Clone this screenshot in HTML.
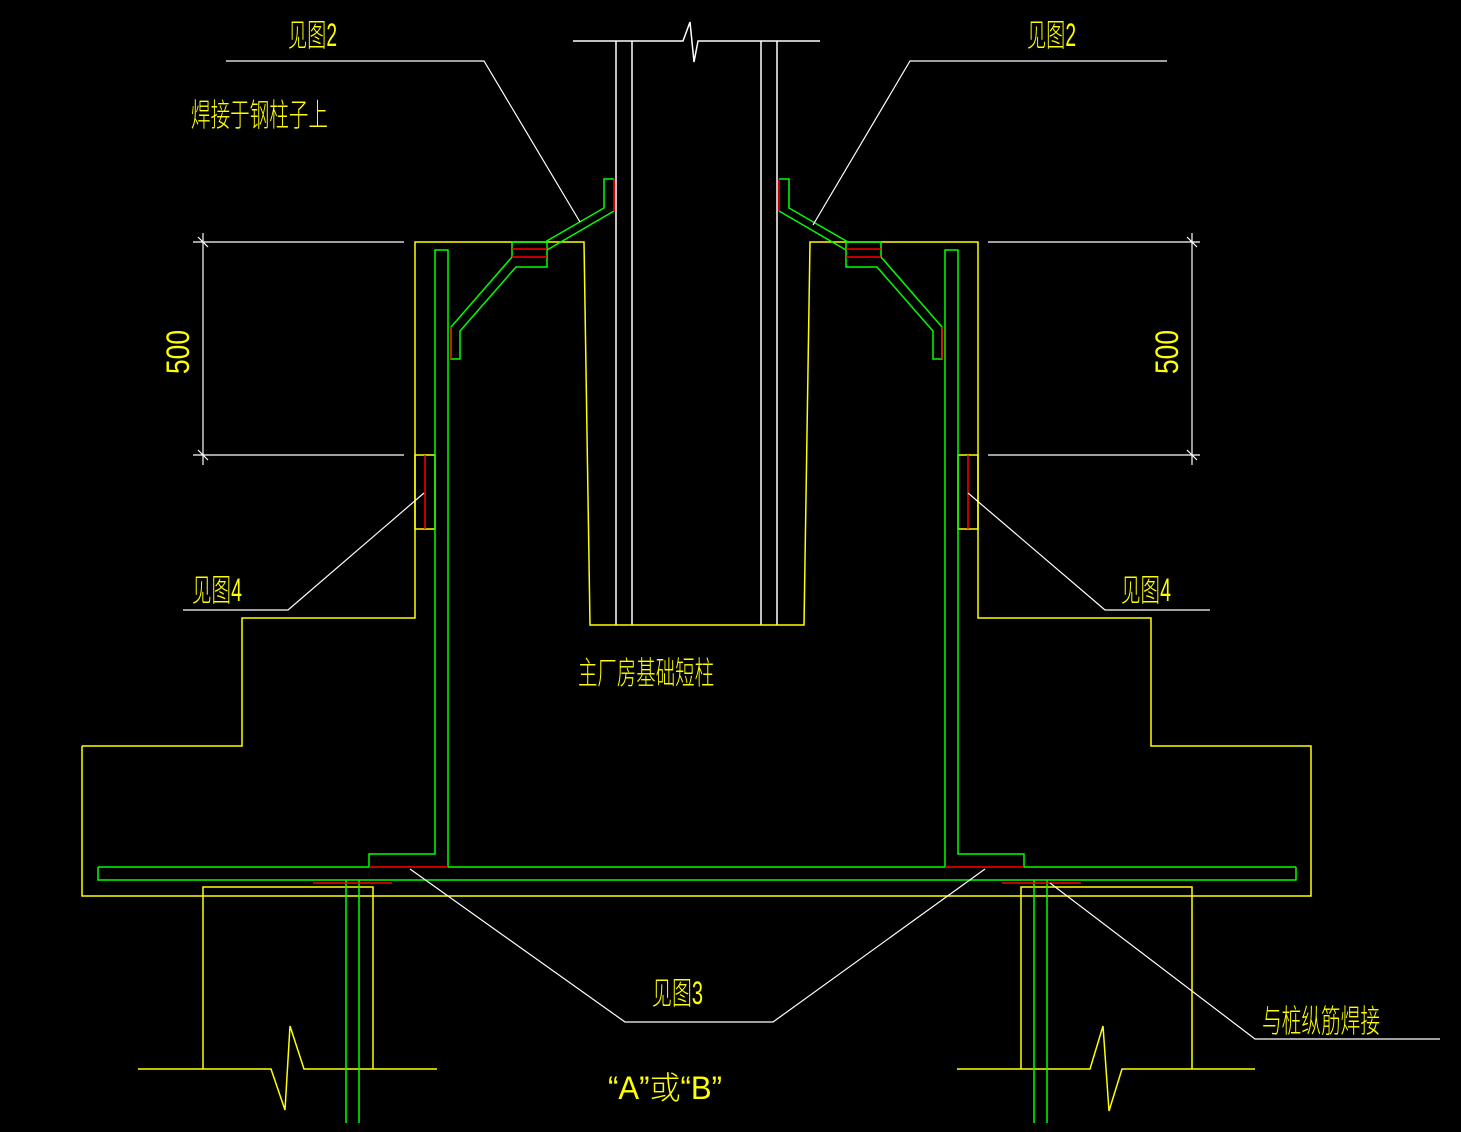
<!DOCTYPE html>
<html><head><meta charset="utf-8"><style>
html,body{margin:0;padding:0;background:#000;}
svg{display:block;}
text{font-family:"Liberation Sans","Noto Sans CJK SC",sans-serif;fill:#ffff00;font-weight:300;}
</style></head><body>
<svg width="1461" height="1132" viewBox="0 0 1461 1132" xmlns="http://www.w3.org/2000/svg" fill="none" stroke-width="1.5">
<rect width="1461" height="1132" fill="#000"/>
<!-- steel column -->
<g stroke="#fff">
<polyline points="573,41 683,41 690,22 694,62 698,41 820,41"/>
<line x1="616" y1="41" x2="616" y2="625"/><line x1="632" y1="41" x2="632" y2="625"/>
<line x1="761" y1="41" x2="761" y2="625"/><line x1="777" y1="41" x2="777" y2="625"/>
</g>
<!-- yellow outline -->
<g stroke="#ffff00">
<polyline points="82,746 242,746 242,618 415,618 415,242 584,242 590,625 804,625 810,242 978,242 978,618 1151,618 1151,746 1311,746 1311,896 82,896 82,746"/>
<polyline points="203,1069 203,887 373,887 373,1069"/>
<polyline points="1021,1069 1021,887 1192,887 1192,1069"/>
<polyline points="138,1069 271,1069 285,1110 290,1026 304,1069 437,1069"/>
<polyline points="957,1069 1090,1069 1103,1026 1109,1111 1122,1069 1255,1069"/>
<rect x="415" y="455" width="20" height="74"/>
<rect x="958" y="455" width="20" height="74"/>
</g>
<!-- green rebar -->
<g stroke="#00ff00">
<polyline points="98,867 369,867 369,854 435,854 435,250 448,250 448,867"/>
<polyline points="1296,867 1024,867 1024,854 958,854 958,250 945,250 945,867"/>
<line x1="448" y1="867" x2="945" y2="867"/>
<polyline points="98,867 98,880 1296,880 1296,867"/>
<line x1="346" y1="880" x2="346" y2="1123"/><line x1="359" y1="880" x2="359" y2="1123"/>
<line x1="1034" y1="880" x2="1034" y2="1123"/><line x1="1047" y1="880" x2="1047" y2="1123"/>
<!-- left bracket -->
<polyline points="512,257 512,242 547,242 547,267 516,267 460,331 460,359 451,359 451,327 512,257"/>
<polyline points="545,242 604,208 604,179 614,179"/>
<line x1="614" y1="211" x2="547" y2="250"/>
<!-- right bracket -->
<polyline points="881,257 881,242 846,242 846,267 877,267 933,331 933,359 942,359 942,327 881,257"/>
<polyline points="848,242 789,208 789,179 779,179"/>
<line x1="779" y1="211" x2="846" y2="250"/>
</g>
<g stroke="#ff0000">
<line x1="512" y1="249" x2="547" y2="249"/><line x1="512" y1="257" x2="547" y2="257"/>
<line x1="451" y1="327" x2="451" y2="359"/><line x1="614" y1="179" x2="614" y2="211"/>
<line x1="846" y1="249" x2="881" y2="249"/><line x1="846" y1="257" x2="881" y2="257"/>
<line x1="942" y1="327" x2="942" y2="359"/><line x1="779" y1="179" x2="779" y2="211"/>
<line x1="425" y1="455" x2="425" y2="529"/><line x1="968" y1="455" x2="968" y2="529"/>
<line x1="369" y1="867" x2="448" y2="867"/><line x1="945" y1="867" x2="1024" y2="867"/>
<line x1="313" y1="883" x2="392" y2="883"/><line x1="1002" y1="883" x2="1081" y2="883"/>
</g>
<!-- dimensions & leaders -->
<g stroke="#fff" stroke-width="1.2">
<line x1="193" y1="242" x2="404" y2="242"/><line x1="193" y1="455" x2="404" y2="455"/>
<line x1="203" y1="233" x2="203" y2="465"/>
<line x1="198" y1="237" x2="208" y2="247"/><line x1="198" y1="450" x2="208" y2="460"/>
<line x1="988" y1="242" x2="1200" y2="242"/><line x1="988" y1="455" x2="1200" y2="455"/>
<line x1="1192" y1="233" x2="1192" y2="465"/>
<line x1="1187" y1="237" x2="1197" y2="247"/><line x1="1187" y1="450" x2="1197" y2="460"/>
<polyline points="226,61 484,61 580,222"/>
<polyline points="1167,61 910,61 813,225"/>
<polyline points="183,610 288,610 424,493"/>
<polyline points="1210,610 1105,610 968,493"/>
<polyline points="410,869 625,1022 773,1022 985,869"/>
<polyline points="1050,883 1255,1039 1440,1039"/>
</g>
<!-- text -->
<g font-size="32">
<text x="288" y="46" textLength="49" lengthAdjust="spacingAndGlyphs">见图2</text>
<text x="1027" y="46" textLength="49" lengthAdjust="spacingAndGlyphs">见图2</text>
<text x="191" y="126" textLength="137" lengthAdjust="spacingAndGlyphs">焊接于钢柱子上</text>
<text x="192" y="601" textLength="50" lengthAdjust="spacingAndGlyphs">见图4</text>
<text x="1121" y="601" textLength="50" lengthAdjust="spacingAndGlyphs">见图4</text>
<text x="578" y="684" textLength="136" lengthAdjust="spacingAndGlyphs">主厂房基础短柱</text>
<text x="652" y="1004" textLength="51" lengthAdjust="spacingAndGlyphs">见图3</text>
<text x="1262" y="1032" textLength="118" lengthAdjust="spacingAndGlyphs">与桩纵筋焊接</text>
<text x="608" y="1099" textLength="114" lengthAdjust="spacingAndGlyphs">“A”或“B”</text>
<text transform="translate(189,374) rotate(-90)" textLength="44" lengthAdjust="spacingAndGlyphs">500</text>
<text transform="translate(1178,374) rotate(-90)" textLength="44" lengthAdjust="spacingAndGlyphs">500</text>
</g>
</svg>
</body></html>
